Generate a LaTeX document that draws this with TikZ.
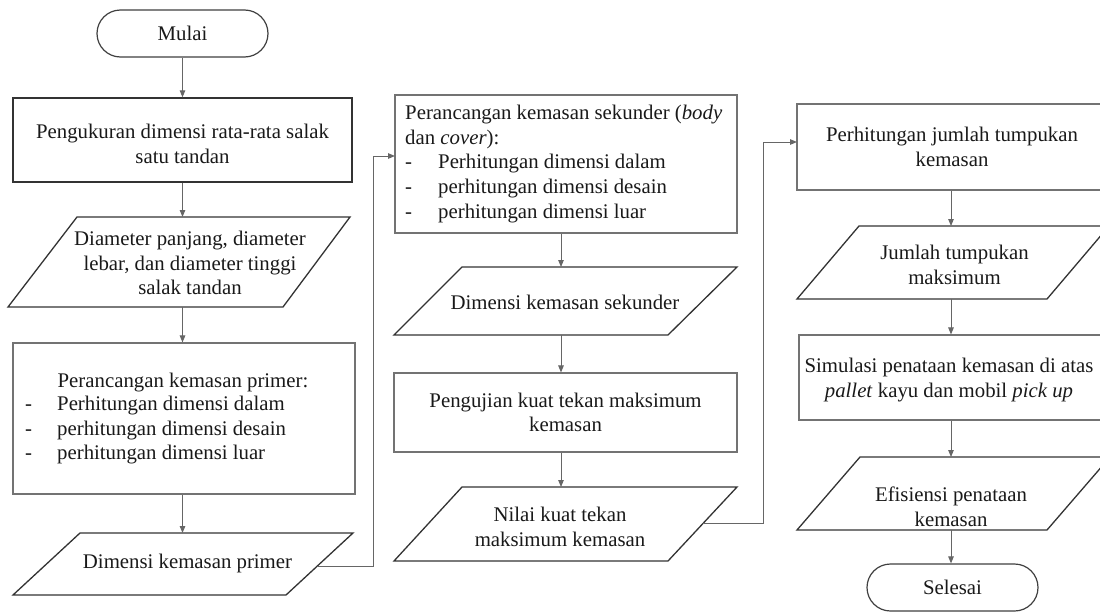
\documentclass[tikz,border=0pt]{standalone}
\usepackage{fontspec}
\setmainfont{Liberation Serif}
\usetikzlibrary{arrows.meta}
\begin{document}
\begin{tikzpicture}[x=1pt,y=-1pt,
  txt/.style={font=\fontsize{20.8}{24.6}\selectfont, text=black!90, inner sep=0pt, align=center},
  rbox/.style={txt, draw=black!55, line width=1.1pt},
  darkbox/.style={txt, draw=black!80, line width=1.3pt},
  term/.style={txt, draw=black!75, line width=1.2pt, rounded corners=23.5pt, minimum width=171pt, minimum height=47pt},
  paral/.style={draw=black!80, line width=1.3pt, line join=miter},
  conn/.style={draw=black!60, line width=1pt, -{Triangle[length=7pt,width=5.5pt]}},
  dash/.style={}
]
\clip (0,0) rectangle (1100,613);
\useasboundingbox (0,0) rectangle (1100,613);
\fill[white] (0,0) rectangle (1100,613);

% ---------- column 1 ----------
\node[term] (mulai) at (182.5,33.5) {Mulai};
\node[darkbox, minimum width=339pt, minimum height=84pt] (b1) at (182.5,140) {};
\node[txt] (t1) at (182.5,144) {Pengukuran dimensi rata-rata salak\\satu tandan};

\draw[paral] (77,217) -- (350,217) -- (283,307) -- (8,307) -- cycle;
\coordinate (p1n) at (182.5,217);
\coordinate (p1s) at (182.5,307);
\node[txt] (tp1) at (190,263) {Diameter panjang, diameter\\lebar, dan diameter tinggi\\salak tandan};

\node[rbox, minimum width=342pt, minimum height=151pt] (b2) at (184,418.5) {};
\node[txt] (t2a) at (183,383) {Perancangan kemasan primer:};
\node[txt, align=left, anchor=north west] (t2b) at (25,396) {\makebox[32pt][l]{-}Perhitungan dimensi dalam\\\makebox[32pt][l]{-}perhitungan dimensi desain\\\makebox[32pt][l]{-}perhitungan dimensi luar};

\draw[paral] (80,533) -- (353,533) -- (286,595) -- (13,595) -- cycle;
\coordinate (p2n) at (182.5,533);
\coordinate (p2e) at (317,566);
\node[txt] (tp2) at (187.5,563) {Dimensi kemasan primer};

% ---------- column 2 ----------
\node[rbox, minimum width=342pt, minimum height=138pt] (b3) at (566,164) {};
\node[txt, align=left, anchor=north west] (t3) at (405,105) {Perancangan kemasan sekunder (\textit{body}\\dan \textit{cover}):\\\makebox[33pt][l]{-}Perhitungan dimensi dalam\\\makebox[33pt][l]{-}perhitungan dimensi desain\\\makebox[33pt][l]{-}perhitungan dimensi luar};
\coordinate (b3in) at (395,156);

\draw[paral] (462,267) -- (737,267) -- (668,335) -- (394,335) -- cycle;
\coordinate (p3n) at (561,267);
\coordinate (p3s) at (561,335);
\node[txt] (tp3) at (565,302) {Dimensi kemasan sekunder};

\node[rbox, minimum width=343pt, minimum height=79pt] (b4) at (565.5,412.5) {Pengujian kuat tekan maksimum\\kemasan};

\draw[paral] (462,487) -- (737,487) -- (668,561) -- (394,561) -- cycle;
\coordinate (p4n) at (561,487);
\coordinate (p4e) at (703,523);
\node[txt] (tp4) at (560,527) {Nilai kuat tekan\\maksimum kemasan};

% ---------- column 3 ----------
\node[rbox, minimum width=310pt, minimum height=86pt] (b5) at (952,147) {Perhitungan jumlah tumpukan\\kemasan};
\coordinate (b5in) at (797,142);

\draw[paral] (859,226) -- (1109,226) -- (1047,299) -- (797,299) -- cycle;
\coordinate (p5n) at (951,226);
\coordinate (p5s) at (951,299);
\node[txt] (tp5) at (954.5,265) {Jumlah tumpukan\\maksimum};

\node[rbox, minimum width=308pt, minimum height=85pt] (b6) at (953,377.5) {};
\node[txt] (t6) at (949,380) {Simulasi penataan kemasan di atas\\\textit{pallet} kayu dan mobil \textit{pick up}};

\draw[paral] (860,457) -- (1110,457) -- (1047,530) -- (797,530) -- cycle;
\coordinate (p6n) at (951,457);
\coordinate (p6s) at (951,530);
\node[txt] (tp6) at (951,507) {Efisiensi penataan\\kemasan};

\node[term] (selesai) at (952.5,587.5) {Selesai};

% ---------- connectors ----------
\draw[conn] (mulai.south) -- (b1.north);
\draw[conn] (b1.south) -- (p1n);
\draw[conn] (p1s) -- (p1s |- b2.north);
\draw[conn] (b2.south -| p2n) -- (p2n);
\draw[conn] (p2e) -- ++(56,0) |- (b3in);
\draw[conn] (b3.south -| p3n) -- (p3n);
\draw[conn] (p3s) -- (p3s |- b4.north);
\draw[conn] (b4.south -| p4n) -- (p4n);
\draw[conn] (p4e) -- ++(60,0) |- (b5in);
\draw[conn] (b5.south -| p5n) -- (p5n);
\draw[conn] (p5s) -- (p5s |- b6.north);
\draw[conn] (b6.south -| p6n) -- (p6n);
\draw[conn] (p6s) -- (p6s |- selesai.north);
\end{tikzpicture}
\end{document}
